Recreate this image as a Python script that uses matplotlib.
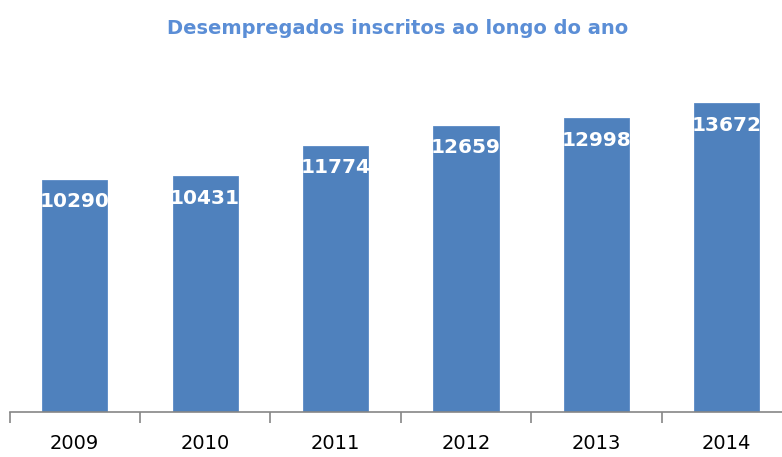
import matplotlib.pyplot as plt

anos = ["2009", "2010", "2011", "2012", "2013", "2014"]
inscritos = [10290, 10431, 11774, 12659, 12998, 13672]

fig = plt.figure(figsize=(7.82, 4.57), dpi=100)
# axes deliberately runs a bit past the right edge, like the original
ax = fig.add_axes([9.5/782, 45/457, 782.5/782, 352/457])

pos = list(range(len(anos)))
bars = ax.bar(pos, inscritos, width=0.5, color="#4F81BD", edgecolor="#5A8AC6", linewidth=0.6)

for x, v in zip(pos, inscritos):
    ax.annotate(str(v), (x, v), xytext=(0, -22), textcoords="offset pixels",
                ha="center", va="center", color="white", fontsize=14.5, fontweight="bold")

ax.set_xlim(-0.5, 5.5)
ax.set_ylim(0, 15580)

# tick marks on category boundaries, labels in the middle
ax.set_xticks([i - 0.5 for i in range(len(anos) + 1)])
ax.set_xticklabels([])
ax.set_xticks(pos, minor=True)
ax.set_xticklabels(anos, minor=True, fontsize=14)
ax.tick_params(axis="x", which="major", direction="out", length=8, width=1.2, color="#868686")
ax.tick_params(axis="x", which="minor", length=0, pad=16)
ax.set_yticks([])

for s in ["top", "right", "left"]:
    ax.spines[s].set_visible(False)
ax.spines["bottom"].set_color("#868686")
ax.spines["bottom"].set_linewidth(1.2)

fig.text(398/782, 1 - 28/457, "Desempregados inscritos ao longo do ano", ha="center", va="center",
         color="#5B8ED6", fontsize=14, fontweight="bold")

fig.savefig("out.png", dpi=100)
